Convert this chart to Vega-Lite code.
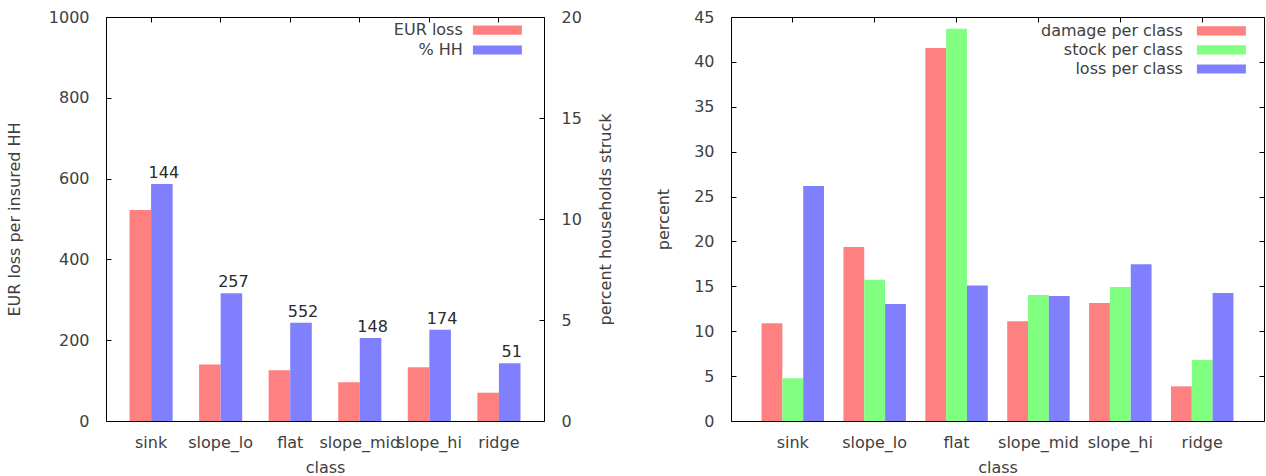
{
  "$schema": "https://vega.github.io/schema/vega-lite/v6.json",
  "padding": {"left": 5, "top": 8, "right": 0, "bottom": 0},
  "spacing": 187,
  "bounds": "flush",
  "resolve": {"scale": {"color": "independent", "xOffset": "independent", "x": "independent", "y": "independent"}, "legend": {"color": "independent"}},
  "config": {
    "font": "DejaVu Sans",
    "view": {"stroke": "#000", "strokeWidth": 1},
    "axis": {
      "domain": false, "grid": false,
      "labelFont": "DejaVu Sans", "labelFontSize": 16, "labelColor": "#404040",
      "titleFont": "DejaVu Sans", "titleFontSize": 16, "titleFontWeight": "normal", "titleColor": "#404040",
      "tickColor": "#000", "tickSize": -5, "labelOverlap": false, "labelPadding": 22
    },
    "legend": {"labelFont": "DejaVu Sans", "labelFontSize": 16, "labelColor": "#404040"}
  },
  "hconcat": [
    {
      "width": 438, "height": 404,
      "data": {"values": [
        {"class": "sink", "series": "EUR loss", "value": 522},
        {"class": "sink", "series": "% HH", "value": 11.73, "n": 144},
        {"class": "slope_lo", "series": "EUR loss", "value": 140},
        {"class": "slope_lo", "series": "% HH", "value": 6.32, "n": 257},
        {"class": "flat", "series": "EUR loss", "value": 125.5},
        {"class": "flat", "series": "% HH", "value": 4.87, "n": 552},
        {"class": "slope_mid", "series": "EUR loss", "value": 96},
        {"class": "slope_mid", "series": "% HH", "value": 4.11, "n": 148},
        {"class": "slope_hi", "series": "EUR loss", "value": 133},
        {"class": "slope_hi", "series": "% HH", "value": 4.52, "n": 174},
        {"class": "ridge", "series": "EUR loss", "value": 70},
        {"class": "ridge", "series": "% HH", "value": 2.86, "n": 51}
      ]},
      "layer": [
        {
          "transform": [{"filter": "datum.series === 'EUR loss'"}],
          "mark": "bar",
          "encoding": {
            "x": {"field": "class", "type": "nominal", "sort": ["sink", "slope_lo", "flat", "slope_mid", "slope_hi", "ridge"],
                  "scale": {"paddingInner": 0.38, "paddingOuter": 0.338},
                  "axis": {"orient": "bottom", "ticks": false, "labelAngle": 0, "labelPadding": 13, "title": "class", "titlePadding": 9}},
            "xOffset": {"field": "series", "type": "nominal", "scale": {"domain": ["EUR loss", "% HH"], "paddingInner": 0, "paddingOuter": 0}},
            "y": {"field": "value", "type": "quantitative", "scale": {"domain": [0, 1000]},
                  "axis": {"orient": "left", "values": [0, 200, 400, 600, 800, 1000], "format": "d", "title": "EUR loss per insured HH", "titlePadding": 26}},
            "color": {"field": "series", "type": "nominal",
                      "scale": {"domain": ["EUR loss", "% HH"], "range": ["#ff8080", "#8080ff"]},
                      "legend": {"orient": "none", "legendX": 383.4, "legendY": 5.2, "title": null, "padding": 0,
                                 "symbolType": "M-4,-0.75H4V0.75H-4Z", "symbolSize": 150, "symbolStrokeWidth": 0, "symbolOffset": 0,
                                 "labelOffset": -42.6, "labelAlign": "right", "rowPadding": 3.8}}
          }
        },
        {
          "transform": [{"filter": "datum.series === '% HH'"}],
          "mark": "bar",
          "encoding": {
            "x": {"field": "class", "type": "nominal", "sort": ["sink", "slope_lo", "flat", "slope_mid", "slope_hi", "ridge"],
                  "scale": {"paddingInner": 0.38, "paddingOuter": 0.338},
                  "axis": {"orient": "top", "labels": false, "title": null}},
            "xOffset": {"field": "series", "type": "nominal", "scale": {"domain": ["EUR loss", "% HH"], "paddingInner": 0, "paddingOuter": 0}},
            "y": {"field": "value", "type": "quantitative", "scale": {"domain": [0, 20]},
                  "axis": {"orient": "right", "values": [0, 5, 10, 15, 20], "format": "d", "title": "percent households struck", "titleAngle": 270, "titleBaseline": "top", "titlePadding": 16}},
            "color": {"value": "#8080ff"}
          }
        },
        {
          "transform": [{"filter": "datum.series === '% HH'"}],
          "mark": {"type": "text", "dy": -6, "dx": 2, "baseline": "alphabetic", "align": "center", "fontSize": 16, "color": "#2a2a2a"},
          "encoding": {
            "x": {"field": "class", "type": "nominal", "sort": ["sink", "slope_lo", "flat", "slope_mid", "slope_hi", "ridge"],
                  "scale": {"paddingInner": 0.38, "paddingOuter": 0.338}, "axis": null},
            "xOffset": {"field": "series", "type": "nominal", "scale": {"domain": ["EUR loss", "% HH"], "paddingInner": 0, "paddingOuter": 0}},
            "y": {"field": "value", "type": "quantitative", "scale": {"domain": [0, 20]}, "axis": null},
            "text": {"field": "n", "type": "quantitative"}
          }
        }
      ],
      "resolve": {"scale": {"y": "independent"}, "axis": {"x": "independent"}}
    },
    {
      "width": 533, "height": 404,
      "data": {"values": [
        {"class": "sink", "series": "damage per class", "value": 10.88},
        {"class": "sink", "series": "stock per class", "value": 4.75},
        {"class": "sink", "series": "loss per class", "value": 26.18},
        {"class": "slope_lo", "series": "damage per class", "value": 19.38},
        {"class": "slope_lo", "series": "stock per class", "value": 15.74},
        {"class": "slope_lo", "series": "loss per class", "value": 13.03},
        {"class": "flat", "series": "damage per class", "value": 41.55},
        {"class": "flat", "series": "stock per class", "value": 43.7},
        {"class": "flat", "series": "loss per class", "value": 15.08},
        {"class": "slope_mid", "series": "damage per class", "value": 11.1},
        {"class": "slope_mid", "series": "stock per class", "value": 14.04},
        {"class": "slope_mid", "series": "loss per class", "value": 13.93},
        {"class": "slope_hi", "series": "damage per class", "value": 13.15},
        {"class": "slope_hi", "series": "stock per class", "value": 14.93},
        {"class": "slope_hi", "series": "loss per class", "value": 17.45},
        {"class": "ridge", "series": "damage per class", "value": 3.86},
        {"class": "ridge", "series": "stock per class", "value": 6.8},
        {"class": "ridge", "series": "loss per class", "value": 14.26}
      ]},
      "layer": [
        {
          "mark": "bar",
          "encoding": {
            "x": {"field": "class", "type": "nominal", "sort": ["sink", "slope_lo", "flat", "slope_mid", "slope_hi", "ridge"],
                  "scale": {"paddingInner": 0.237, "paddingOuter": 0.373},
                  "axis": {"orient": "bottom", "ticks": false, "labelAngle": 0, "labelPadding": 13, "title": "class", "titlePadding": 9}},
            "xOffset": {"field": "series", "type": "nominal", "scale": {"domain": ["damage per class", "stock per class", "loss per class"], "paddingInner": 0, "paddingOuter": 0}},
            "y": {"field": "value", "type": "quantitative", "scale": {"domain": [0, 45]},
                  "axis": {"orient": "left", "values": [0, 5, 10, 15, 20, 25, 30, 35, 40, 45], "format": "d", "title": "percent", "titlePadding": 22}},
            "color": {"field": "series", "type": "nominal",
                      "scale": {"domain": ["damage per class", "stock per class", "loss per class"], "range": ["#ff8080", "#80ff80", "#8080ff"]},
                      "legend": {"orient": "none", "legendX": 482.4, "legendY": 5.8, "title": null, "padding": 0,
                                 "symbolType": "M-4,-0.75H4V0.75H-4Z", "symbolSize": 150, "symbolStrokeWidth": 0, "symbolOffset": 0,
                                 "labelOffset": -46.6, "labelAlign": "right", "rowPadding": 3.1, "labelLimit": 300}}
          }
        },
        {
          "mark": {"type": "bar", "opacity": 0},
          "encoding": {
            "x": {"field": "class", "type": "nominal", "sort": ["sink", "slope_lo", "flat", "slope_mid", "slope_hi", "ridge"],
                  "scale": {"paddingInner": 0.237, "paddingOuter": 0.373},
                  "axis": {"orient": "top", "labels": false, "title": null}},
            "xOffset": {"field": "series", "type": "nominal", "scale": {"domain": ["damage per class", "stock per class", "loss per class"], "paddingInner": 0, "paddingOuter": 0}},
            "y": {"field": "value", "type": "quantitative", "scale": {"domain": [0, 45]},
                  "axis": {"orient": "right", "values": [0, 5, 10, 15, 20, 25, 30, 35, 40, 45], "labels": false, "title": null}}
          }
        }
      ],
      "resolve": {"axis": {"x": "independent", "y": "independent"}}
    }
  ]
}
